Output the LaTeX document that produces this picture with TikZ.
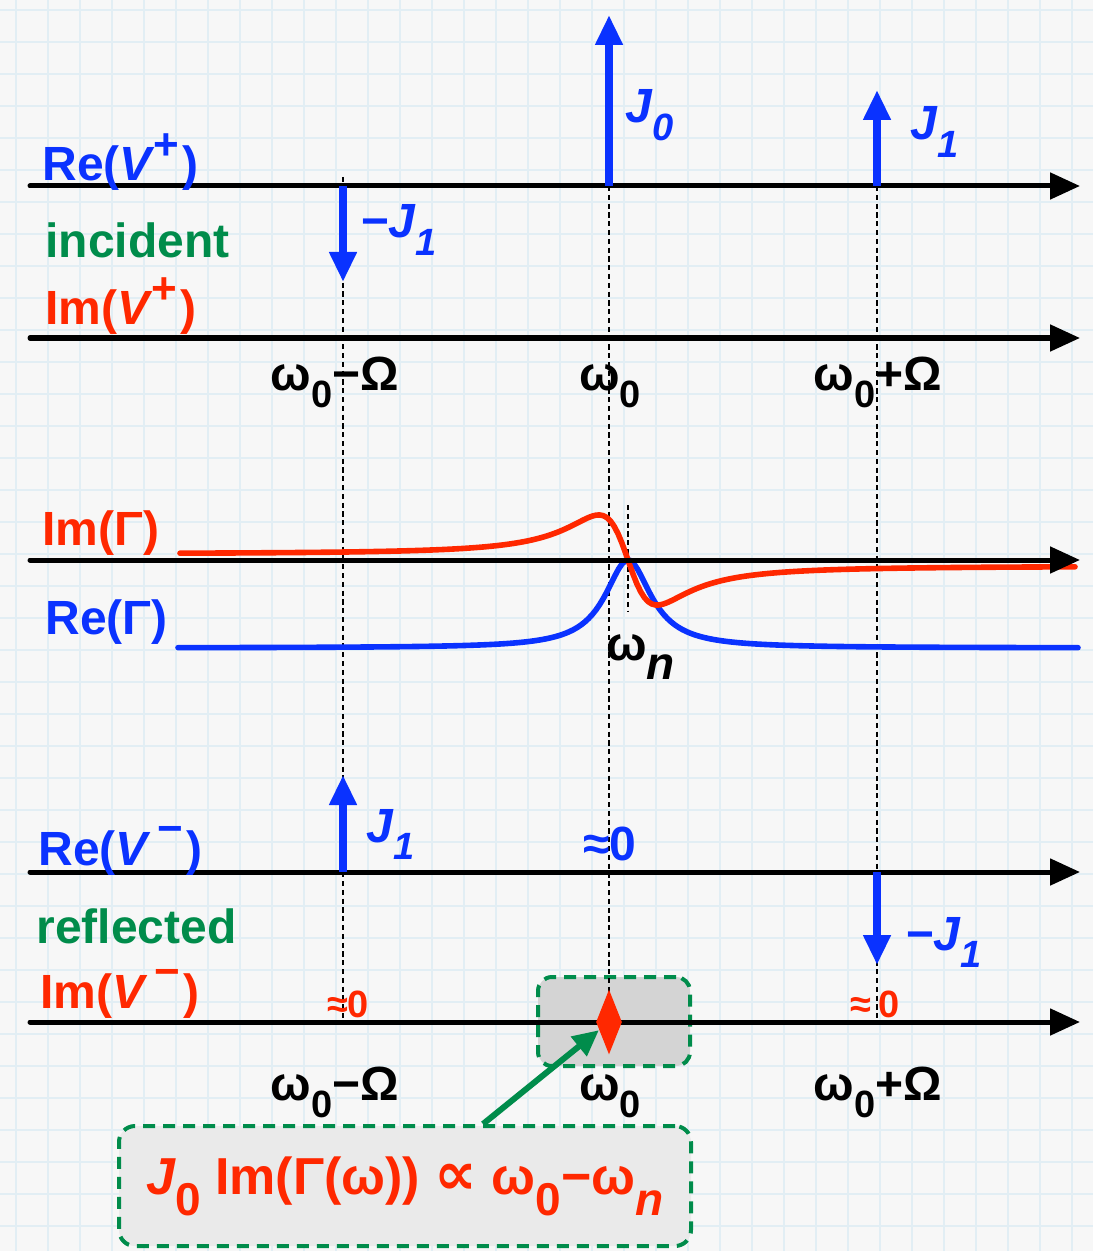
\documentclass[tikz,border=0pt]{standalone}
\usepackage{fontspec}
\setmainfont{Liberation Sans}
\newfontfamily\symfont{DejaVu Sans}
\usepackage{tikz}
\usetikzlibrary{arrows.meta,shapes.geometric}
\definecolor{vblue}{RGB}{10,50,255}
\definecolor{vred}{RGB}{255,40,0}
\definecolor{vgreen}{RGB}{0,140,75}
\definecolor{bggray}{RGB}{247,247,247}
\definecolor{gridblue}{RGB}{226,238,244}
\definecolor{zonegray}{RGB}{212,212,212}
\definecolor{notegray}{RGB}{234,234,234}
\newcommand{\lo}[1]{\raisebox{-0.36em}{\fontsize{19}{19}\selectfont #1}}
\newcommand{\biglo}[1]{\raisebox{-0.4em}{\fontsize{23}{23}\selectfont #1}}
\newcommand{\hi}[1]{\kern1pt\raisebox{0.45em}{\fontsize{22}{22}\selectfont #1}\kern1.5pt}

\begin{document}
\begin{tikzpicture}[
  x=0.5pt, y=-0.5pt,
  lbl/.style={anchor=base west, inner sep=0pt, font=\fontsize{24}{24}\selectfont\bfseries},
  tick/.style={anchor=base, inner sep=0pt, font=\fontsize{24}{24}\selectfont\bfseries},
  small/.style={anchor=base, inner sep=0pt, font=\fontsize{19}{19}\selectfont\bfseries, text=vred},
  axis/.style={line width=2.5pt, line cap=round, -{Triangle[length=15pt,width=13pt]}},
  spike/.style={vblue, line width=4pt, -{Triangle[length=15pt,width=13pt]}},
  guide/.style={line width=0.8pt, dash pattern=on 2.6pt off 1.8pt},
  curve/.style={line width=2.8pt, line cap=round},
  gridline/.style={gridblue, line width=0.6pt},
  zonebox/.style={draw=vgreen, fill=zonegray, line width=2pt, dash pattern=on 6pt off 4pt, rounded corners=7pt, minimum width=76pt, minimum height=44.5pt},
  notebox/.style={draw=vgreen, fill=notegray, line width=2pt, dash pattern=on 6pt off 4pt, rounded corners=8pt, minimum width=286pt, minimum height=60pt, text=vred, font=\fontsize{26}{26}\selectfont\bfseries},
]
\useasboundingbox (0,0) rectangle (1093,1251);
\fill[bggray] (0,0) rectangle (1093,1251);
% Grid
\foreach \gx in {16,48,...,1093} \draw[gridline] (\gx,0) -- (\gx,1251);
\foreach \gy in {10,42,...,1251} \draw[gridline] (0,\gy) -- (1093,\gy);

% Boxes
\node[zonebox] (zone) at (614,1021.5) {};
\node[notebox] (note) at (405,1186) {{\itshape J}\biglo{0}\ Im(Γ(ω))\ {\symfont\fontsize{30}{30}\selectfont ∝}\ ω\biglo{0}−ω\biglo{\itshape n}};

% Guides
\draw[guide] (343,177) -- (343,1022);
\draw[guide] (609,186) -- (609,1022);
\draw[guide] (877,186) -- (877,1022);
\draw[guide] (628,505) -- (628,612);

% Reflection coefficient
\draw[curve, vblue] plot[domain=178:1078, samples=240] (\x, {648-88/(1+((\x-628)/28)^2)});
\draw[curve, vred] plot[domain=180:1075, samples=240]
  (\x, {560+6*((\x-628)/39.6)/sqrt(1+((\x-628)/39.6)^2)+108*((\x-628)/39.6)/(1+((\x-628)/39.6)^2)^1.5});

% Axes
\draw[axis] (30,186) -- (1080,186);
\draw[axis] (30,338) -- (1080,338);
\draw[axis] (30,560) -- (1080,560);
\draw[axis] (30,872) -- (1080,872);
\draw[axis] (30,1022) -- (1080,1022);

% Spectral lines
\draw[spike] (609,186) -- (609,15);
\draw[spike] (877,186) -- (877,90);
\draw[spike] (343,186) -- (343,282);
\draw[spike] (343,872) -- (343,775);
\draw[spike] (877,872) -- (877,965);

% Peak marker
\node[diamond, fill=vred, inner sep=0pt, minimum width=13pt, minimum height=32.5pt] (peak) at (609,1022) {};
\draw[vgreen, line width=3pt, -{Triangle[length=13pt,width=12pt]}] ([xshift=39pt]note.north) -- (peak);

% Labels
\node[lbl, text=vblue] (reinc) at (42,181) {Re({\itshape V}\hi{+})};
\node[lbl, text=vgreen] (inc) at (45,258) {incident};
\node[lbl, text=vred] (iminc) at (45,325) {Im({\itshape V}\hi{+})};
\node[lbl, text=vblue] (mj1a) at (360,238) {{\itshape −J}\lo{\itshape 1}};
\node[lbl, text=vblue] (j0) at (625,123) {{\itshape J}\lo{\itshape 0}};
\node[lbl, text=vblue] (j1a) at (910,140) {{\itshape J}\lo{\itshape 1}};
\node[tick] (wl) at (335,390) {ω\lo{0}−Ω};
\node[tick] (wc) at (610,390) {ω\lo{0}};
\node[tick] (wr) at (878,390) {ω\lo{0}+Ω};
\node[lbl, text=vred] (imgam) at (42,545) {Im(Γ)};
\node[lbl, text=vblue] (regam) at (45,634) {Re(Γ)};
\node[lbl] (wn) at (606,660) {ω\biglo{\itshape n}};
\node[lbl, text=vblue] (reref) at (38,865) {Re({\itshape V}\,\hi{−})};
\node[lbl, text=vgreen] (ref) at (36,943) {reflected};
\node[lbl, text=vred] (imref) at (40,1008) {Im({\itshape V}\,\hi{−})};
\node[lbl, text=vblue] (j1b) at (366,842) {{\itshape J}\lo{\itshape 1}};
\node[tick, text=vblue] (zc) at (610,860) {≈0};
\node[lbl, text=vblue] (mj1b) at (905,950) {{\itshape −J}\lo{\itshape 1}};
\node[small] (zl) at (348,1017) {≈0};
\node[small] (zr) at (875,1017) {≈\,0};
\node[tick] (wlb) at (335,1100) {ω\lo{0}−Ω};
\node[tick] (wcb) at (610,1100) {ω\lo{0}};
\node[tick] (wrb) at (878,1100) {ω\lo{0}+Ω};
\end{tikzpicture}
\end{document}
